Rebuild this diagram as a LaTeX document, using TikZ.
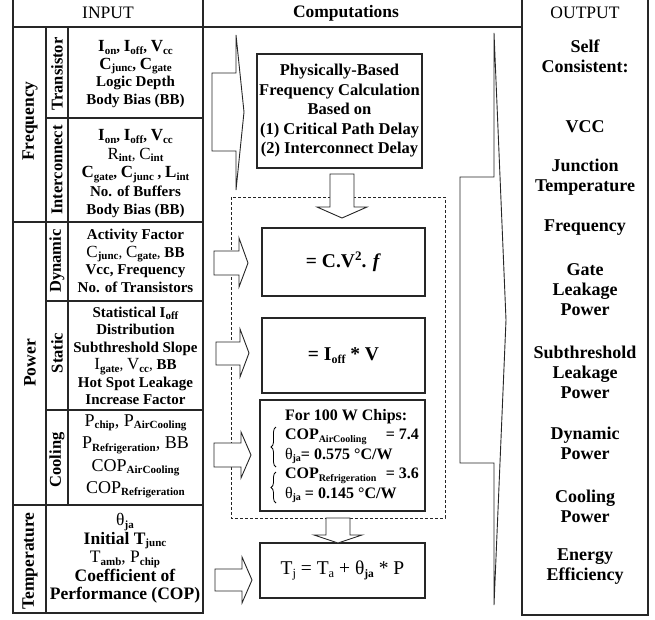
\documentclass[tikz,border=0pt]{standalone}
\usepackage{fontspec}
\setmainfont{Liberation Serif}
\usetikzlibrary{decorations.pathreplacing}
\newcommand\sbs[3][10]{#2\raisebox{-2.5pt}{\fontsize{#1}{#1}\selectfont\bfseries #3}}
\newcommand\sbx[2]{\sbs[11]{{\fontsize{17}{17.5}\selectfont #1}}{#2}}
\begin{document}
\begin{tikzpicture}[x=1pt,y=-1pt,
  tbl/.style={line width=1.3pt, draw=black!85},
  cbox/.style={draw=black!85, line width=1.2pt, inner sep=0pt},
  blk/.style={draw=black!85, line width=0.9pt, fill=white, line join=miter},
  cell/.style={align=center, font=\fontsize{15}{17.5}\selectfont\bfseries, inner sep=0pt},
  lab/.style={rotate=90, font=\fontsize{17.5}{17.5}\selectfont\bfseries, inner sep=0pt},
  outp/.style={align=center, font=\fontsize{18}{20}\selectfont\bfseries, inner sep=0pt},
  head/.style={font=\fontsize{17.5}{20}\selectfont, inner sep=0pt},
  btxt/.style={align=center, font=\fontsize{16.5}{19.5}\selectfont\bfseries, inner sep=0pt}
]
\useasboundingbox (0,0) rectangle (655,619);

% ---------------- left table ----------------
\draw[tbl] (13,0) -- (13,613) -- (203,613) -- (203,0);
\draw[tbl] (13,27) -- (522,27);
\draw[tbl] (46,27) -- (46,613);
\draw[tbl] (68,27) -- (68,505);
\draw[tbl] (46,118) -- (203,118);
\draw[tbl] (13,222) -- (203,222);
\draw[tbl] (46,301) -- (203,301);
\draw[tbl] (46,410) -- (203,410);
\draw[tbl] (13,505) -- (203,505);

\node[head] (hin) at (108,13) {INPUT};
\node[head, font=\fontsize{17.5}{20}\selectfont\bfseries] (hcomp) at (346,13) {Computations};
\node[head] (hout) at (585,13) {OUTPUT};

\node[lab] (lfreq) at (30,121) {Frequency};
\node[lab] (lpow) at (30,363) {Power};
\node[lab] (ltemp) at (30,561) {Temperature};

\node[lab, font=\fontsize{16.5}{17}\selectfont\bfseries] (ltr) at (57,74) {Transistor};
\node[lab, font=\fontsize{16.5}{17}\selectfont\bfseries] (lint) at (57,170) {Interconnect};
\node[lab, font=\fontsize{16.5}{17}\selectfont\bfseries] (ldyn) at (57,261) {Dynamic};
\node[lab, font=\fontsize{16.5}{17}\selectfont\bfseries] (lsta) at (57,353) {Static};
\node[lab, font=\fontsize{16.5}{17}\selectfont\bfseries] (lcool) at (57,460) {Cooling};

\node[cell] (ctr) at (135.5,74) {\sbx{I}{on}, \sbx{I}{off}, \sbx{V}{cc}\\
  \sbx{C}{junc}, \sbx{C}{gate}\\ Logic Depth\\ Body Bias (BB)};
\node[cell, font=\fontsize{15}{18.5}\selectfont\bfseries] (cint) at (135.5,174) {\sbx{I}{on}, \sbx{I}{off}, \sbx{V}{cc}\\
  {\mdseries\sbx{R}{int}, \sbx{C}{int}}\\ \sbx{C}{gate}, \sbx{C}{junc} , \sbx{L}{int}\\ No. of Buffers\\ Body Bias (BB)};
\node[cell] (cdyn) at (135.5,261) {Activity Factor\\
  {\mdseries\sbx{C}{junc}, \sbx{C}{gate},} BB\\ Vcc, Frequency\\ No. of Transistors};
\node[cell] (csta) at (135.5,356) {Statistical \sbs[11]{I}{off}\\ Distribution\\ Subthreshold Slope\\
  {\mdseries\sbx{I}{gate}, \sbx{V}{cc},} BB\\ Hot Spot Leakage\\ Increase Factor};
\node[cell, font=\fontsize{18}{22.3}\selectfont\mdseries] (ccool) at (135.5,456.5) {\sbs[11]{P}{chip}, \sbs[11]{P}{AirCooling}\\
  \sbs[11]{P}{Refrigeration}, BB\\ \sbs[11]{COP}{AirCooling}\\ \sbs[11]{COP}{Refrigeration}};
\node[cell, font=\fontsize{17.5}{18.5}\selectfont\bfseries] (ctemp) at (125,558.5) {{\mdseries\sbs[11]{θ}{ja}}\\
  Initial \sbs[11]{T}{junc}\\ {\mdseries\sbs[11]{T}{amb}, \sbs[11]{P}{chip}}\\ Coefficient of\\ Performance (COP)};

% ---------------- right table ----------------
\draw[tbl] (522,0) -- (522,615) -- (648,615) -- (648,0);
\node[outp] (o1) at (585,56) {Self\\Consistent:};
\node[outp] (o2) at (585,127) {VCC};
\node[outp] (o3) at (585,177.5) {Junction\\Temperature};
\node[outp] (o4) at (585,228) {Frequency};
\node[outp] (o5) at (585,290) {Gate\\Leakage\\Power};
\node[outp] (o6) at (585,372) {Subthreshold\\Leakage\\Power};
\node[outp] (o7) at (585,443) {Dynamic\\Power};
\node[outp] (o8) at (585,506) {Cooling\\Power};
\node[outp] (o9) at (585,566.5) {Energy\\Efficiency};

% ---------------- computations ----------------
\draw[black!85, line width=0.9pt, dash pattern=on 3pt off 2pt] (231,197) rectangle (445,518);

\node[cbox, minimum width=165pt, minimum height=114pt] (bfreq) at (339.5,111) {};
\node[btxt] (tfreq) at (bfreq.center) {Physically-Based\\Frequency Calculation\\Based on\\(1) Critical Path Delay\\(2) Interconnect Delay};

\node[cbox, minimum width=163pt, minimum height=68pt] (bdyn) at (343.5,262) {};
\node[inner sep=0pt, font=\fontsize{19.5}{20}\selectfont\bfseries] (tdyn) at (bdyn.center) {= C.V\raisebox{7pt}{\fontsize{13}{13}\selectfont 2}. \textit{f}};

\node[cbox, minimum width=163pt, minimum height=75pt] (bsta) at (343.5,355.5) {};
\node[inner sep=0pt, font=\fontsize{19.5}{20}\selectfont\bfseries] (tsta) at (bsta.center) {= \sbs[12]{I}{off} * V};

\node[cbox, minimum width=165pt, minimum height=111pt] (bcool) at (342.5,455.5) {};
\node[inner sep=0pt, align=left, font=\fontsize{16}{19.5}\selectfont\bfseries] (tcool) at (352,456) {%
  For 100 W Chips:\\
  \makebox[134pt][l]{\sbs[10]{COP}{AirCooling}\hfill= 7.4}\\
  \makebox[134pt][l]{{\mdseries\sbs[10]{θ}{ja}}= 0.575 °C/W}\\
  \makebox[134pt][l]{\sbs[10]{COP}{Refrigeration}\hfill= 3.6}\\
  \makebox[134pt][l]{{\mdseries\sbs[10]{θ}{ja}} = 0.145 °C/W}};
\draw[black, line width=0.8pt, decorate, decoration={brace, amplitude=5pt}] (276,467) -- (276,427);
\draw[black, line width=0.8pt, decorate, decoration={brace, amplitude=5pt}] (276,503) -- (276,472);

\node[cbox, minimum width=165pt, minimum height=55pt] (btemp) at (342.5,570.5) {};
\node[inner sep=0pt, font=\fontsize{19.5}{20}\selectfont] (ttemp) at (btemp.center) {T\raisebox{-3pt}{\fontsize{12.5}{12.5}\selectfont j} = T\raisebox{-3pt}{\fontsize{12.5}{12.5}\selectfont a} + θ\raisebox{-3pt}{\fontsize{11.5}{11.5}\selectfont\bfseries ja} * P};

% block arrows
\draw[blk] (212,73) -- (236,73) -- (236,35) -- (244,112) -- (236,190) -- (236,151) -- (212,151) -- cycle;
\draw[blk] (460,177) -- (494,177) -- (494,33) -- (506,320) -- (494,605) -- (494,463) -- (460,463) -- cycle;
\draw[blk] (330,174) -- (354,174) -- (354,207) -- (367,207) -- (342,218) -- (317,207) -- (330,207) -- cycle;
\draw[blk] (326,518) -- (350,518) -- (350,535) -- (362,535) -- (338,543) -- (314,535) -- (326,535) -- cycle;
\draw[blk] (214,251) -- (239,251) -- (239,238) -- (248,263) -- (239,287) -- (239,275) -- (214,275) -- cycle;
\draw[blk] (216,342) -- (240,342) -- (240,329) -- (249,353) -- (240,377) -- (240,365) -- (216,365) -- cycle;
\draw[blk] (214,443) -- (241,443) -- (241,432) -- (251,455) -- (241,478) -- (241,467) -- (214,467) -- cycle;
\draw[blk] (215,569) -- (242,569) -- (242,557) -- (252,580) -- (242,603) -- (242,591) -- (215,591) -- cycle;
\end{tikzpicture}
\end{document}
